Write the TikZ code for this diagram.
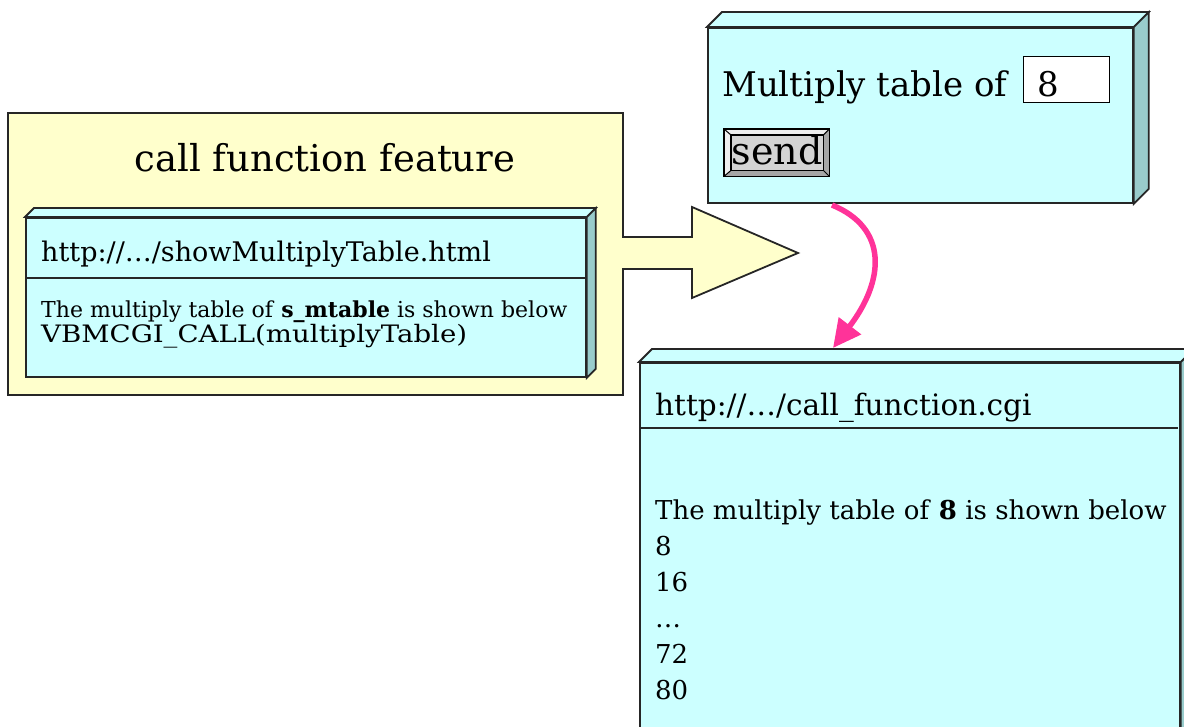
\documentclass[tikz,border=0pt]{standalone}
\usepackage{fontspec}
\setmainfont{DejaVu Serif}
\newfontfamily\widefont[FakeStretch=1.15]{DejaVu Serif}
\usepackage{xcolor}
\usetikzlibrary{calc,arrows.meta}

\definecolor{panelyellow}{HTML}{FFFFCC}
\definecolor{pagecyan}{HTML}{CCFFFF}
\definecolor{pageside}{HTML}{99CCCC}
\definecolor{callpink}{HTML}{FF3399}
\definecolor{btnface}{HTML}{D4D4D4}
\definecolor{btnlight}{HTML}{EEEEEE}
\definecolor{btndark}{HTML}{A6A6A6}

\begin{document}
\begin{tikzpicture}[x=1pt, y=-1pt,
  face/.style={rectangle, draw=black!85, line width=1.8pt, fill=pagecyan, inner sep=0pt, anchor=north west},
  txt/.style={anchor=base west, inner sep=0pt}]
\useasboundingbox (0,0) rectangle (1184,727);
\clip (0,0) rectangle (1184,727);
% feature panel with its big arrow, one outline
\draw[fill=panelyellow, draw=black!85, line width=1.8pt]
  (8,113) -- (623,113) -- (623,237) -- (692,237) -- (692,207) -- (798,253)
  -- (692,298) -- (692,269) -- (623,269) -- (623,395) -- (8,395) -- cycle;
\node[anchor=base, inner sep=0pt, font=\fontsize{37}{44}\selectfont] (title) at (325,172) {call function feature};

% pages: front faces, then top and side faces
\node[face, minimum width=560, minimum height=159] (sourcebox) at (25,217) {};
\node[face, minimum width=425, minimum height=175] (formbox) at (707,27) {};
\node[face, minimum width=540, minimum height=420] (resultbox) at (639,362) {};
\foreach \b/\d in {sourcebox/9, formbox/15, resultbox/13} {
  \draw[draw=black!85, line width=1.8pt, fill=pagecyan]
    (\b.north west) -- ++(\d,-\d) -- ($(\b.north east)+(\d,-\d)$) -- (\b.north east) -- cycle;
  \draw[draw=black!85, line width=1.8pt, fill=pageside]
    (\b.north east) -- ++(\d,-\d) -- ($(\b.south east)+(\d,-\d)$) -- (\b.south east) -- cycle;
}
\draw[black!85, line width=1.3pt] ($(sourcebox.north west)+(0,61)$) -- ($(sourcebox.north east)+(0,61)$);
\draw[black!85, line width=1.3pt] ($(resultbox.north west)+(0,66)$) -- ($(resultbox.north east)+(-3,66)$);

% showMultiplyTable.html
\node[txt, font=\fontsize{27}{32}\selectfont] (sourceurl) at (41,262) {http://…/showMultiplyTable.html};
\node[txt, font=\fontsize{22}{26}\selectfont] (sourceline) at (41,318) {The multiply table of \textbf{s\_mtable} is shown below};
\node[txt, font=\widefont\fontsize{24}{28}\selectfont] (sourcecall) at (41,343) {VBMCGI\_CALL(multiplyTable)};

% the form
\node[txt, font=\fontsize{34}{40}\selectfont] (formlabel) at (722,97) {Multiply table of};
\node[rectangle, draw=black, line width=1.3pt, fill=white, minimum width=86, minimum height=46, inner sep=0pt, anchor=north west] (valuebox) at (1023,56) {};
\node[txt, font=\fontsize{34}{40}\selectfont] (value) at (1037,97) {8};
\path node[rectangle, minimum width=105, minimum height=47, inner sep=0pt, anchor=north west] (sendframe) at (724,129) {};
\node[rectangle, minimum width=92, minimum height=35, inner sep=0pt, anchor=north west] (sendbtn) at (731,135) {};
\fill[btnlight] (sendframe.north west) -- (sendframe.north east) -- (sendbtn.north east) -- (sendbtn.north west) -- (sendbtn.south west) -- (sendframe.south west) -- cycle;
\fill[btndark] (sendframe.north east) -- (sendframe.south east) -- (sendframe.south west) -- (sendbtn.south west) -- (sendbtn.south east) -- (sendbtn.north east) -- cycle;
\draw[fill=btnface, line width=1.2pt] (sendbtn.north west) rectangle (sendbtn.south east);
\draw[line width=1.4pt] (sendframe.north west) rectangle (sendframe.south east);
\foreach \c in {north west, north east, south west, south east} \draw[line width=1pt] (sendframe.\c) -- (sendbtn.\c);
\node[anchor=base, inner sep=0pt, font=\fontsize{38}{40}\selectfont] (sendlabel) at (777,165) {send};

% call_function.cgi
\node[txt, font=\fontsize{29.5}{32}\selectfont] (resulturl) at (655,416) {http://…/call\_function.cgi};
\node[txt, font=\fontsize{26}{36}\selectfont] (resultline) at (655,519) {The multiply table of \textbf{8} is shown below};
\foreach \v [count=\i] in {8,16,{…},72,80}
  \node[txt, font=\fontsize{26}{36}\selectfont] (row\i) at (655,{519+36*\i}) {\v};

% submitting the form
\coordinate (callstart) at (832,205);
\coordinate (callend) at (833,348);
\draw[callpink, line width=5.5pt, -{Triangle[length=28pt, width=27pt]}] (callstart) .. controls (888,228) and (885,280) .. (callend);
\end{tikzpicture}
\end{document}
